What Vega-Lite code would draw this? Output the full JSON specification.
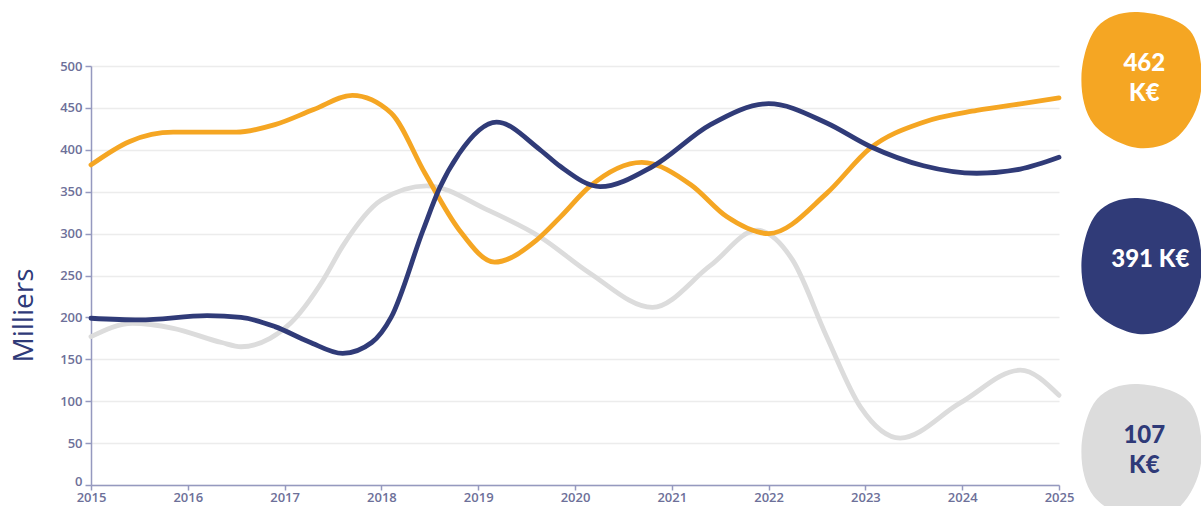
{
  "$schema": "https://vega.github.io/schema/vega-lite/v6.json",
  "width": 968,
  "height": 419,
  "autosize": {"type": "none"},
  "padding": {"left": 91, "top": 66, "right": 142, "bottom": 21},
  "background": "white",
  "config": {"view": {"stroke": null}, "font": "Open Sans"},
  "datasets": {
    "series": [
      {"series": "gris", "year": 2015.0, "value": 177},
      {"series": "gris", "year": 2015.43, "value": 193},
      {"series": "gris", "year": 2015.85, "value": 187},
      {"series": "gris", "year": 2016.35, "value": 170},
      {"series": "gris", "year": 2016.55, "value": 165},
      {"series": "gris", "year": 2016.85, "value": 175},
      {"series": "gris", "year": 2017.06, "value": 193},
      {"series": "gris", "year": 2017.4, "value": 245},
      {"series": "gris", "year": 2017.6, "value": 285},
      {"series": "gris", "year": 2018.0, "value": 340},
      {"series": "gris", "year": 2018.47, "value": 357},
      {"series": "gris", "year": 2019.1, "value": 328},
      {"series": "gris", "year": 2019.64, "value": 296},
      {"series": "gris", "year": 2020.15, "value": 253},
      {"series": "gris", "year": 2020.8, "value": 212},
      {"series": "gris", "year": 2021.4, "value": 262},
      {"series": "gris", "year": 2021.88, "value": 304},
      {"series": "gris", "year": 2022.25, "value": 268},
      {"series": "gris", "year": 2022.6, "value": 177},
      {"series": "gris", "year": 2022.95, "value": 93},
      {"series": "gris", "year": 2023.36, "value": 56},
      {"series": "gris", "year": 2023.98, "value": 98},
      {"series": "gris", "year": 2024.6, "value": 137},
      {"series": "gris", "year": 2025.0, "value": 107},

      {"series": "orange", "year": 2015.0, "value": 382},
      {"series": "orange", "year": 2015.4, "value": 410},
      {"series": "orange", "year": 2015.85, "value": 421},
      {"series": "orange", "year": 2016.5, "value": 421},
      {"series": "orange", "year": 2016.9, "value": 430},
      {"series": "orange", "year": 2017.3, "value": 448},
      {"series": "orange", "year": 2017.7, "value": 465},
      {"series": "orange", "year": 2018.1, "value": 444},
      {"series": "orange", "year": 2018.45, "value": 372},
      {"series": "orange", "year": 2018.8, "value": 305},
      {"series": "orange", "year": 2019.17, "value": 266},
      {"series": "orange", "year": 2019.6, "value": 292},
      {"series": "orange", "year": 2019.85, "value": 320},
      {"series": "orange", "year": 2020.15, "value": 356},
      {"series": "orange", "year": 2020.69, "value": 385},
      {"series": "orange", "year": 2021.2, "value": 358},
      {"series": "orange", "year": 2021.57, "value": 320},
      {"series": "orange", "year": 2022.0, "value": 300},
      {"series": "orange", "year": 2022.6, "value": 348},
      {"series": "orange", "year": 2023.05, "value": 402},
      {"series": "orange", "year": 2023.6, "value": 433},
      {"series": "orange", "year": 2024.15, "value": 447},
      {"series": "orange", "year": 2024.67, "value": 456},
      {"series": "orange", "year": 2025.0, "value": 462},

      {"series": "bleu", "year": 2015.0, "value": 199},
      {"series": "bleu", "year": 2015.5, "value": 197},
      {"series": "bleu", "year": 2016.2, "value": 202},
      {"series": "bleu", "year": 2016.55, "value": 200},
      {"series": "bleu", "year": 2016.9, "value": 189},
      {"series": "bleu", "year": 2017.25, "value": 171},
      {"series": "bleu", "year": 2017.6, "value": 157},
      {"series": "bleu", "year": 2017.9, "value": 170},
      {"series": "bleu", "year": 2018.1, "value": 200},
      {"series": "bleu", "year": 2018.43, "value": 304},
      {"series": "bleu", "year": 2018.6, "value": 354},
      {"series": "bleu", "year": 2018.8, "value": 395},
      {"series": "bleu", "year": 2019.19, "value": 433},
      {"series": "bleu", "year": 2019.64, "value": 400},
      {"series": "bleu", "year": 2019.85, "value": 380},
      {"series": "bleu", "year": 2020.26, "value": 356},
      {"series": "bleu", "year": 2020.8, "value": 380},
      {"series": "bleu", "year": 2021.4, "value": 430},
      {"series": "bleu", "year": 2022.0, "value": 455},
      {"series": "bleu", "year": 2022.6, "value": 432},
      {"series": "bleu", "year": 2023.05, "value": 404},
      {"series": "bleu", "year": 2023.6, "value": 381},
      {"series": "bleu", "year": 2024.15, "value": 372},
      {"series": "bleu", "year": 2024.6, "value": 377},
      {"series": "bleu", "year": 2025.0, "value": 391}
    ],
    "badges": [
      {"series": "orange", "label": "462\nK€"},
      {"series": "bleu", "label": "391 K€"},
      {"series": "gris", "label": "107\nK€"}
    ]
  },
  "layer": [
    {
      "data": {"name": "series"},
      "mark": {"type": "line", "interpolate": "monotone", "strokeWidth": 4.8, "strokeCap": "round"},
      "encoding": {
        "x": {
          "field": "year", "type": "quantitative",
          "scale": {"domain": [2015, 2025], "nice": false, "zero": false},
          "axis": {
            "values": [2015, 2016, 2017, 2018, 2019, 2020, 2021, 2022, 2023, 2024, 2025],
            "format": "d", "title": null, "grid": false,
            "labelColor": "#6d7099", "labelFontSize": 13, "labelFontWeight": 600,
            "labelPadding": 1, "tickSize": 5, "tickColor": "#9599bf", "tickWidth": 1.5,
            "domainColor": "#9599bf", "domainWidth": 1.5, "labelFlush": false
          }
        },
        "y": {
          "field": "value", "type": "quantitative",
          "scale": {"domain": [0, 500], "nice": false},
          "axis": {
            "values": [0, 50, 100, 150, 200, 250, 300, 350, 400, 450, 500],
            "title": "Milliers", "titleFontSize": 28, "titleFontWeight": "normal",
            "titleColor": "#2f3a78", "titleFont": "Open Sans",
            "titleX": -59, "titleY": 249, "titleBaseline": "alphabetic", "titleAngle": 270,
            "labelColor": "#6d7099", "labelFontSize": 13, "labelFontWeight": 600,
            "labelBaseline": {"condition": {"test": "datum.value === 0", "value": "alphabetic"}, "value": "middle"},
            "labelPadding": 3, "tickSize": 6, "tickColor": "#9599bf", "tickWidth": 1.5,
            "domainColor": "#9599bf", "domainWidth": 1.5,
            "gridColor": "#ececec", "gridWidth": 1.5
          }
        },
        "color": {
          "field": "series", "type": "nominal",
          "scale": {"domain": ["gris", "orange", "bleu"], "range": ["#dcdcdc", "#f5a623", "#303b78"]},
          "legend": null
        }
      }
    },
    {
      "data": {"name": "badges"},
      "encoding": {
        "x": {"datum": 2025.85, "type": "quantitative"},
        "y": {"field": "series", "type": "nominal", "scale": {"domain": ["orange", "bleu", "gris"], "range": [14, 386], "padding": 0}, "axis": null}
      },
      "layer": [
        {
          "mark": {
            "type": "point", "filled": true, "opacity": 1, "size": 18496,
            "shape": "M-0.05,-1C0.178,-0.99,0.565,-0.912,0.72,-0.72C0.875,-0.528,0.908,-0.107,0.88,0.15C0.852,0.407,0.705,0.678,0.55,0.82C0.395,0.962,0.158,1.02,-0.05,1C-0.258,0.972,-0.562,0.825,-0.7,0.65C-0.838,0.475,-0.888,0.188,-0.88,-0.05C-0.872,-0.288,-0.788,-0.622,-0.65,-0.78C-0.512,-0.938,-0.278,-1.01,-0.05,-1Z"
          },
          "encoding": {
            "color": {"field": "series", "type": "nominal", "legend": null}
          }
        },
        {
          "transform": [{"filter": "datum.series !== 'bleu'"}],
          "mark": {"type": "text", "font": "Lato", "fontWeight": 900, "fontSize": 24, "lineBreak": "\n", "lineHeight": 30, "align": "center", "baseline": "middle", "dx": 3, "dy": -16},
          "encoding": {
            "text": {"field": "label"},
            "color": {"condition": {"test": "datum.series === 'gris'", "value": "#2f3a78"}, "value": "#ffffff"}
          }
        },
        {
          "transform": [{"filter": "datum.series === 'bleu'"}],
          "mark": {"type": "text", "font": "Lato", "fontWeight": 900, "fontSize": 24, "align": "center", "baseline": "middle", "dx": 9, "dy": -6},
          "encoding": {
            "text": {"field": "label"},
            "color": {"value": "#ffffff"}
          }
        }
      ]
    }
  ],
  "resolve": {"scale": {"y": "independent"}}
}
